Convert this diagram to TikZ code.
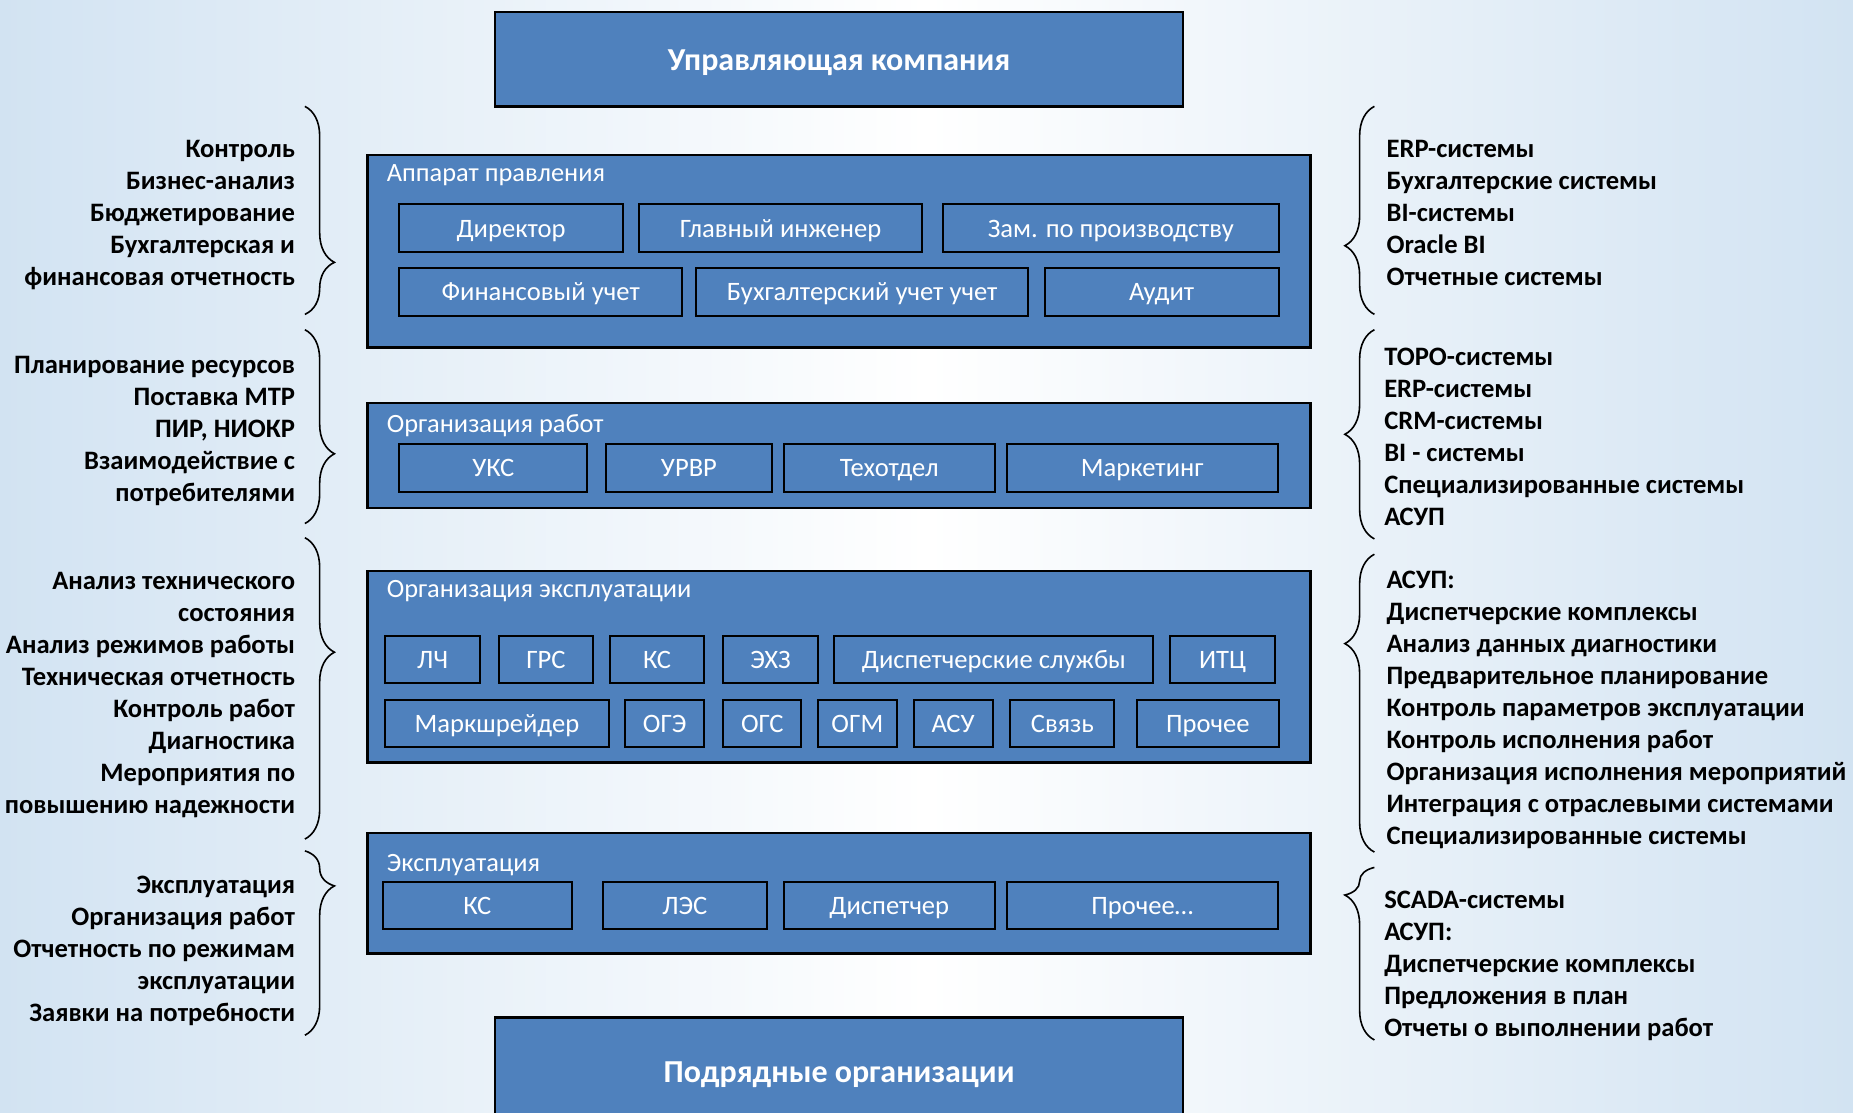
\documentclass[tikz,border=0pt]{standalone}
\usepackage{fontspec}
\setmainfont{Carlito}
\usepackage{xcolor}
\usepackage{tikz}
\usetikzlibrary{positioning,calc,decorations.pathreplacing}
\definecolor{boxblue}{RGB}{79,129,189}
\definecolor{bgblue}{RGB}{210,227,242}
\newlength{\dpx}
\setlength{\dpx}{0.591pt}

\tikzset{
    head/.style={draw=black, line width=1.3pt, fill=boxblue, text=white,
        font=\bfseries\fontsize{16}{19}\selectfont,
        text height=13pt, text depth=1.4pt,
        minimum width=582\dpx, minimum height=80\dpx, inner sep=0pt},
    group/.style={draw=black, line width=1.3pt, fill=boxblue,
        minimum width=798\dpx, inner sep=0pt},
    grouptitle/.style={text=white, anchor=west, inner sep=0pt,
        text height=11pt, text depth=2pt,
        font=\fontsize{13.2}{15}\selectfont},
    unit/.style={draw=black, line width=1pt, fill=boxblue, text=white,
        font=\fontsize{13.3}{15}\selectfont, text height=11pt, text depth=2pt,
        minimum height=40\dpx, inner sep=0pt},
    leftlist/.style={anchor=north east, align=right, inner sep=0pt,
        font=\bfseries\fontsize{13.3}{16}\selectfont},
    rightlist/.style={anchor=north west, align=left, inner sep=0pt,
        font=\bfseries\fontsize{13.3}{16}\selectfont},
    bracket/.style={decorate, line width=0.8pt,
        decoration={brace, amplitude=25\dpx, aspect=#1}}
}

\begin{document}
\begin{tikzpicture}[x=0.591pt, y=-0.591pt]
    \useasboundingbox (0,0) rectangle (1568,941);
    \shade[left color=bgblue, right color=bgblue, middle color=white] (0,0) rectangle (1568,941);

    \node[head] (uk) at (710,50) {Управляющая компания};
    \node[head, minimum height=90\dpx] (podr) at (710,906) {Подрядные организации};

    \node[group, minimum height=163\dpx] (app) at (710,212.5) {};
    \node[grouptitle] (apptitle) at (327,146) {Аппарат правления};
    \node[unit, minimum width=189\dpx] (dir) at (432.5,193) {Директор};
    \node[unit, minimum width=239\dpx] (gi) at (660.5,193) {Главный инженер};
    \node[unit, minimum width=284\dpx] (zam) at (940,193) {Зам. по производству};
    \node[unit, minimum width=239\dpx] (fin) at (457.5,247) {Финансовый учет};
    \node[unit, minimum width=281\dpx] (buh) at (729.5,247) {Бухгалтерский учет учет};
    \node[unit, minimum width=198\dpx] (aud) at (983,247) {Аудит};

    \node[group, minimum height=89\dpx] (orgw) at (710,385.5) {};
    \node[grouptitle] (orgwtitle) at (327,358) {Организация работ};
    \node[unit, minimum width=159\dpx] (uks) at (417.5,396) {УКС};
    \node[unit, minimum width=140\dpx] (urvr) at (583,396) {УРВР};
    \node[unit, minimum width=179\dpx] (teh) at (752.5,396) {Техотдел};
    \node[unit, minimum width=229\dpx] (mark) at (966.5,396) {Маркетинг};

    \node[group, minimum height=162\dpx] (orge) at (710,564) {};
    \node[grouptitle] (orgetitle) at (327,498) {Организация эксплуатации};
    \node[unit, minimum width=80\dpx] (lch) at (366,558) {ЛЧ};
    \node[unit, minimum width=80\dpx] (grs) at (462,558) {ГРС};
    \node[unit, minimum width=80\dpx] (ks) at (556,558) {КС};
    \node[unit, minimum width=80\dpx] (ehz) at (652,558) {ЭХЗ};
    \node[unit, minimum width=270\dpx] (disp) at (841,558) {Диспетчерские службы};
    \node[unit, minimum width=89\dpx] (itc) at (1034.5,558) {ИТЦ};
    \node[unit, minimum width=189\dpx] (marksh) at (420.5,612) {Маркшрейдер};
    \node[unit, minimum width=67\dpx] (oge) at (562.5,612) {ОГЭ};
    \node[unit, minimum width=66\dpx] (ogs) at (645,612) {ОГС};
    \node[unit, minimum width=67\dpx] (ogm) at (725.5,612) {ОГМ};
    \node[unit, minimum width=67\dpx] (asu) at (806.5,612) {АСУ};
    \node[unit, minimum width=88\dpx] (svyaz) at (899,612) {Связь};
    \node[unit, minimum width=120\dpx] (proch) at (1022,612) {Прочее};

    \node[group, minimum height=102\dpx] (expl) at (710,756) {};
    \node[grouptitle] (expltitle) at (327,730) {Эксплуатация};
    \node[unit, minimum width=160\dpx] (eks) at (404,766) {КС};
    \node[unit, minimum width=139\dpx] (les) at (579.5,766) {ЛЭС};
    \node[unit, minimum width=179\dpx] (edisp) at (752.5,766) {Диспетчер};
    \node[unit, minimum width=229\dpx] (eproch) at (966.5,766) {Прочее…};

    \node[leftlist] (l1) at (250,118) {Контроль\\Бизнес-анализ\\Бюджетирование\\Бухгалтерская и\\финансовая отчетность};
    \node[leftlist] (l2) at (250,301) {Планирование ресурсов\\Поставка МТР\\ПИР, НИОКР\\Взаимодействие с\\потребителями};
    \node[leftlist] (l3) at (250,484) {Анализ технического\\состояния\\Анализ режимов работы\\Техническая отчетность\\Контроль работ\\Диагностика\\Мероприятия по\\повышению надежности};
    \node[leftlist] (l4) at (250,741) {Эксплуатация\\Организация работ\\Отчетность по режимам\\эксплуатации\\Заявки на потребности};

    \node[rightlist] (r1) at (1173,118) {ERP-системы\\Бухгалтерские системы\\BI-системы\\Oracle BI\\Отчетные системы};
    \node[rightlist] (r2) at (1171,294) {ТОРО-системы\\ERP-системы\\CRM-системы\\BI - системы\\Специализированные системы\\АСУП};
    \node[rightlist] (r3) at (1173,483) {АСУП:\\Диспетчерские комплексы\\Анализ данных диагностики\\Предварительное планирование\\Контроль параметров эксплуатации\\Контроль исполнения работ\\Организация исполнения мероприятий\\Интеграция с отраслевыми системами\\Специализированные системы};
    \node[rightlist] (r4) at (1171,754) {SCADA-системы\\АСУП:\\Диспетчерские комплексы\\Предложения в план\\Отчеты о выполнении работ};

    \draw[bracket=0.75] (258,90) -- (258,266);
    \draw[bracket=0.64] (258,279) -- (258,443);
    \draw[bracket=0.38] (258,455) -- (258,710);
    \draw[bracket=0.19] (258,720) -- (258,876);
    \draw[bracket=0.33] (1163,266) -- (1163,90);
    \draw[bracket=0.50] (1163,456) -- (1163,279);
    \draw[bracket=0.70] (1163,721) -- (1163,469);
    \draw[bracket=0.84] (1163,880) -- (1163,734);
\end{tikzpicture}
\end{document}
